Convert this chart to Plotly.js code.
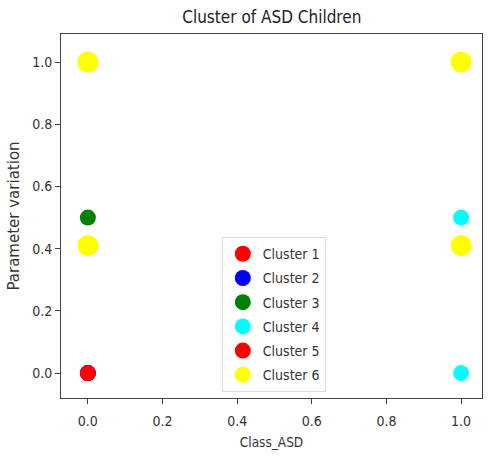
<!DOCTYPE html>
<html>
<head>
<meta charset="utf-8">
<script src="https://cdn.plot.ly/plotly-3.0.1.min.js"></script>
<style>html,body{margin:0;padding:0;background:#fff;}#chart{width:488px;height:457px;}</style>
</head>
<body>
<div id="chart"></div>
<script>
const clusterNames = ["Cluster 1", "Cluster 2", "Cluster 3", "Cluster 4", "Cluster 5", "Cluster 6"];
const clusterColors = ["#ff0000", "#0000ff", "#008000", "#00ffff", "#ff0000", "#ffff00"];
const clusterX = [[0], [0], [0], [1, 1], [0], [0, 1, 0, 1]];
const clusterY = [[0], [0], [0.5], [0.5, 0], [0], [1, 1, 0.41, 0.41]];
const markerSizes = [16, 16, 16, 16, 16, 21];
const xTicks = [0, 0.2, 0.4, 0.6, 0.8, 1.0];
const xTickLabels = ["0.0", "0.2", "0.4", "0.6", "0.8", "1.0"];
const yTicks = [0, 0.2, 0.4, 0.6, 0.8, 1.0];
const yTickLabels = ["0.0", "0.2", "0.4", "0.6", "0.8", "1.0"];

const font = "DejaVu Sans Condensed, DejaVu Sans, sans-serif";
const traces = clusterNames.map((name, i) => ({
  type: "scatter",
  mode: "markers",
  name: name,
  legendgroup: "g" + i,
  x: clusterX[i],
  y: clusterY[i],
  marker: {color: clusterColors[i], size: markerSizes[i], line: {width: 0}}
}));

const layout = {
  width: 488, height: 457,
  margin: {l: 61, r: 6, t: 34, b: 59},
  paper_bgcolor: "#fff", plot_bgcolor: "#fff",
  font: {family: font, size: 14, color: "#333"},
  title: {text: "Cluster of ASD Children", x: 0.557, xanchor: "center", y: 0.962, yanchor: "middle", font: {family: font, size: 17, color: "#222"}},
  xaxis: {
    range: [-0.072, 1.056], tickvals: xTicks, ticktext: xTickLabels,
    showgrid: false, zeroline: false, showline: true, mirror: true, linecolor: "#444", linewidth: 1,
    ticks: "outside", ticklen: 5, tickcolor: "#444", ticklabelstandoff: 5,
    tickfont: {family: font, size: 14, color: "#333"},
    title: {text: "Class_ASD", font: {family: font, size: 13.5, color: "#333"}, standoff: 9}
  },
  yaxis: {
    range: [-0.08, 1.09], tickvals: yTicks, ticktext: yTickLabels,
    showgrid: false, zeroline: false, showline: true, mirror: true, linecolor: "#444", linewidth: 1,
    ticks: "outside", ticklen: 5, tickcolor: "#444",
    tickfont: {family: font, size: 14, color: "#333"},
    title: {text: "Parameter variation", font: {family: "DejaVu Sans, sans-serif", size: 15, color: "#333"}, standoff: 8}
  },
  legend: {
    x: 0.382, xanchor: "left", y: 0.016, yanchor: "bottom",
    bgcolor: "rgba(255,255,255,0.9)", bordercolor: "#ddd", borderwidth: 1,
    tracegroupgap: 3,
    font: {family: font, size: 14, color: "#333"}
  },
  showlegend: true
};

Plotly.newPlot("chart", traces, layout, {displayModeBar: false, staticPlot: true});
</script>
</body>
</html>
